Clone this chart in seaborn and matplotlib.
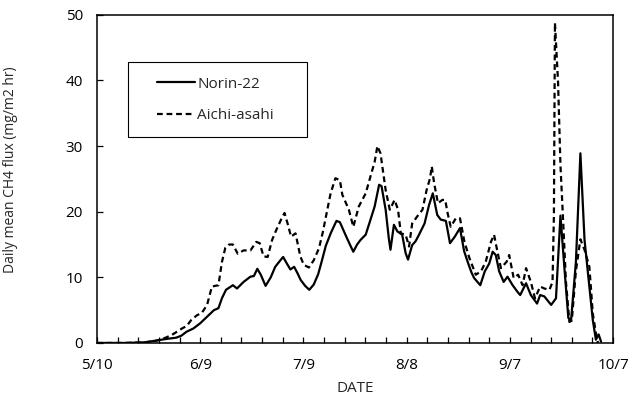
import matplotlib.pyplot as plt
import pandas as pd
import seaborn as sns
from matplotlib.patches import Rectangle

# days after 5/10
tick_days = [0, 30, 60, 90, 120, 150]
tick_labels = ["5/10", "6/9", "7/9", "8/8", "9/7", "10/7"]

norin_day = [0, 8, 14, 17, 20, 23, 24.5, 26, 28, 30, 32, 34, 35.3, 36.3, 37.5, 39.5,
             40.7, 42.6, 44.6, 45.6, 46.6, 47.6, 49, 50.5, 51.8, 53, 54.1, 55.3, 56.2,
             57.3, 58.3, 59.2, 60.5, 61.7, 63, 64.3, 65.4, 66.5, 68, 69.6, 70.6, 72.2,
             73.5, 74.5, 75.6, 76.6, 78.1, 79.5, 80.7, 82, 82.7, 83.9, 84.8, 85.3, 86.3,
             87.3, 88.7, 89.7, 90.4, 91.6, 92.6, 93.6, 95.2, 96.5, 97.6, 98.9, 99.9,
             101.4, 102.6, 104, 105.5, 106.7, 107.9, 108.8, 109.6, 111.4, 112.7, 114,
             115, 115.9, 116.9, 118.2, 119.3, 120.8, 122.2, 123, 124.7, 126.1, 127.9,
             128.8, 130, 132, 133.4, 134.7, 136, 137, 137.8, 139.2, 140.5, 141.7, 143.1,
             144.1, 145, 145.8, 146.5]
norin_flux = [0, 0, 0.1, 0.35, 0.6, 0.8, 1.1, 1.7, 2.2, 3.0, 4.0, 5.0, 5.3, 6.8, 8.1, 8.8,
              8.3, 9.3, 10.1, 10.2, 11.3, 10.4, 8.7, 10.0, 11.6, 12.4, 13.1, 12.0, 11.2,
              11.6, 10.6, 9.6, 8.7, 8.1, 8.9, 10.5, 12.6, 14.8, 16.8, 18.6, 18.4, 16.5,
              15.0, 13.9, 15.0, 15.7, 16.5, 18.8, 20.8, 24.1, 23.9, 20.3, 16.0, 14.2, 18.0,
              17.0, 16.5, 13.7, 12.7, 14.9, 15.5, 16.5, 18.2, 21.0, 22.8, 19.5, 18.8,
              18.6, 15.2, 16.2, 17.5, 14.0, 12.1, 10.8, 9.9, 8.8, 10.9, 12.1,
              13.9, 13.4, 10.9, 9.3, 10.1, 8.8, 7.8, 7.3, 9.1, 7.3, 6.0,
              7.3, 7.1, 5.8, 6.8, 19.4, 10.4, 3.8, 3.5, 12.4, 28.9, 15.7, 8.6,
              3.5, 0.5, 1.3, 0.2]

aichi_day = [0, 8, 14, 17, 19, 21.7, 24.7, 26.1, 27.4, 29, 30.5, 32, 33.4, 35.3, 36.3,
             37.3, 38.4, 39.5, 40.9, 42.6, 44.6, 46.3, 47.3, 48.4, 49.6, 50.9, 52.1, 53.5,
             54.5, 55.4, 56.4, 57.7, 59.1, 60.1, 61.6, 63, 64.5, 65.6, 67.9, 69.3, 70.6,
             71.3, 73.2, 74.5, 76.1, 78.1, 79.5, 80.7, 81.5, 82.4, 83.2, 83.9, 85.1, 86.5,
             87.5, 88.3, 89.7, 90.7, 91.6, 93.1, 94.6, 95.8, 96.8, 97.3, 98, 99.1, 100.4,
             101.2, 101.9, 102.8, 104.3, 105.5, 106.8, 108.2, 110.1, 111.6, 113, 114.5,
             115.4, 116.2, 117.4, 119.1, 119.8, 121.1, 122.4, 123.7, 124.7, 126.1, 127.3,
             128.8, 130, 131.5, 132.4, 132.8, 133.1, 134, 134.7, 135.4, 136.3, 137.3, 138,
             139.2, 140.5, 141.7, 143.1, 143.6, 144.1, 145, 145.6]
aichi_flux = [0, 0, 0.1, 0.3, 0.6, 1.2, 2.2, 2.6, 3.5, 4.2, 4.6, 5.8, 8.6, 8.8, 12.3,
              14.5, 15.0, 15.0, 13.6, 14.1, 14.1, 15.4, 15.2, 13.2, 13.1, 15.7, 17.2, 18.8,
              19.8, 18.2, 16.2, 16.7, 13.2, 11.9, 11.5, 12.6, 14.4, 16.8, 22.8, 25.1, 24.8,
              22.6, 20.3, 17.7, 20.8, 22.8, 25.4, 27.6, 30.0, 28.9, 25.9, 23.3, 20.3, 21.8,
              20.3, 16.7, 16.5, 14.7, 18.2, 19.3, 20.3, 23.3, 25.1, 26.9, 24.3, 21.3, 21.8,
              21.8, 19.8, 17.7, 19.0, 19.0, 15.4, 13.0, 10.4, 10.9, 12.4, 15.4,
              16.5, 14.4, 11.4, 12.4, 13.4, 9.9, 10.4, 8.8, 11.4, 9.3, 6.8,
              8.6, 8.3, 8.1, 9.3, 19.5, 48.8, 39.8, 27.1, 19.5, 9.3, 3.2, 3.4,
              11.0, 15.8, 14.2, 11.6, 8.1, 4.5, 1.5, 0]

varieties = ["Norin-22", "Aichi-asahi"]

df = pd.concat([
    pd.DataFrame({"day": norin_day, "flux": norin_flux, "variety": varieties[0]}),
    pd.DataFrame({"day": aichi_day, "flux": aichi_flux, "variety": varieties[1]}),
])

sns.set_theme(style="ticks")
plt.rcParams["font.family"] = ["Open Sans", "DejaVu Sans"]

fig = plt.figure(figsize=(6.44, 4.03), dpi=100)
ax = fig.add_axes([0.1506, 0.149, 0.8014, 0.8142])

sns.lineplot(
    data=df, x="day", y="flux", hue="variety", style="variety",
    palette=["black", "black"], dashes=["", (2.6, 1.7)],
    linewidth=1.6, estimator=None, legend=False, ax=ax,
)

ax.set_xlim(0, 150)
ax.set_ylim(0, 50)
ax.set_xticks(range(0, 151, 6))
ax.set_xticklabels([tick_labels[tick_days.index(d)] if d in tick_days else "" for d in range(0, 151, 6)])
ax.set_yticks(range(0, 51, 10))
ax.tick_params(axis="x", direction="in", length=4, width=0.9, pad=11, labelsize=11, colors="black")
ax.tick_params(axis="y", direction="in", length=4, width=0.9, pad=10, labelsize=11, colors="black")

for s in ax.spines.values():
    s.set_visible(True)
    s.set_color("black")
    s.set_linewidth(1.1)

ax.set_xlabel("DATE", fontsize=11)
ax.set_ylabel("Daily mean CH4 flux (mg/m2 hr)", fontsize=10)
ax.xaxis.set_label_coords(0.5, -0.115)
ax.yaxis.set_label_coords(-0.153, 0.527)

# legend box drawn separately so the entries can sit further in from its left edge
ax.add_patch(Rectangle((0.06, 0.628), 0.347, 0.229, transform=ax.transAxes,
                       fill=False, edgecolor="black", linewidth=0.8, zorder=3))
ax.legend(
    ax.lines[:2], varieties,
    loc="upper left", bbox_to_anchor=(0.116, 0.812),
    fontsize=11, frameon=False, borderpad=0,
    handlelength=2.5, handletextpad=0.15, labelspacing=1.1, borderaxespad=0,
)

fig.savefig("out.png", dpi=100)
